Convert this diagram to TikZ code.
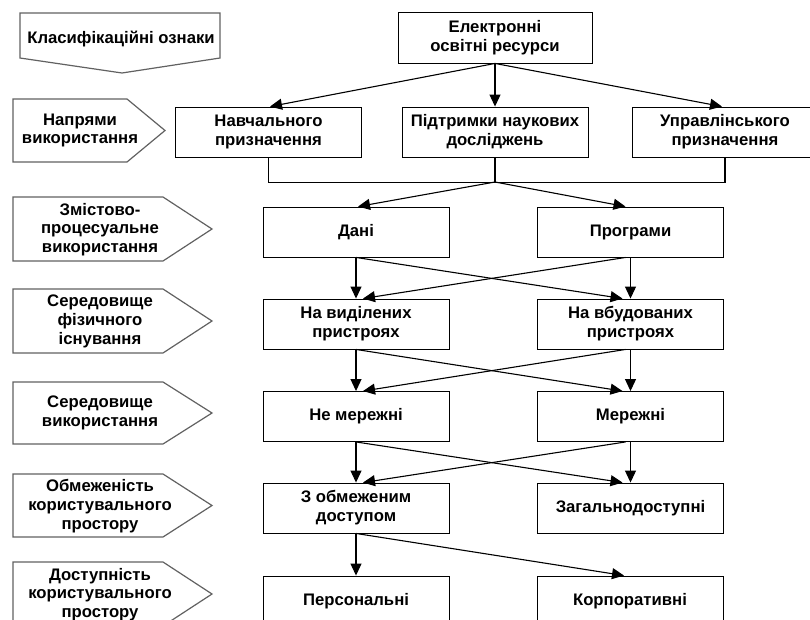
\documentclass[tikz,border=0pt]{standalone}
\usepackage{fontspec}
\setmainfont{Liberation Sans}
\usetikzlibrary{positioning, arrows.meta, calc}

\begin{document}
\begin{tikzpicture}[
    x=1pt, y=-1pt,
    catbox/.style={rectangle, draw=black, line width=0.9pt, minimum width=186pt,
                   minimum height=50pt, align=center, inner sep=0pt,
                   font=\fontsize{16.7}{19}\selectfont\bfseries},
    tag/.style={draw=black!62, line width=1.2pt},
    tagtext/.style={align=center, inner sep=0pt,
                    font=\fontsize{16.7}{18.8}\selectfont\bfseries},
    arrow/.style={-{Triangle[length=12pt, width=11pt]}, line width=1.1pt},
    link/.style={line width=1.1pt}
]
    \useasboundingbox (0,0) rectangle (810,620);
    \clip (0,0) rectangle (810,620);

    % Classification tags (left column)
    \draw[tag] (20,13) -- (220,13) -- (220,58) -- (122,73) -- (20,58) -- cycle;
    \node[tagtext] (classif) at (121,39) {Класифікаційні ознаки};

    \draw[tag] (13,99) -- (127,99) -- (165,130.5) -- (127,162) -- (13,162) -- cycle;
    \node[tagtext] (usage) at (80,130.5) {Напрями\\використання};

    \draw[tag] (13,197) -- (163,197) -- (212,229) -- (163,261) -- (13,261) -- cycle;
    \node[tagtext] (content) at (100,229.5) {Змістово-\\процесуальне\\використання};

    \draw[tag] (13,289) -- (163,289) -- (212,321) -- (163,353) -- (13,353) -- cycle;
    \node[tagtext] (physenv) at (100,321.5) {Середовище\\фізичного\\існування};

    \draw[tag] (13,382) -- (163,382) -- (212,413) -- (163,444) -- (13,444) -- cycle;
    \node[tagtext] (useenv) at (100,413) {Середовище\\використання};

    \draw[tag] (13,474) -- (163,474) -- (212,505.5) -- (163,537) -- (13,537) -- cycle;
    \node[tagtext] (limit) at (100,506) {Обмеженість\\користувального\\простору};

    \draw[tag] (13,562) -- (163,562) -- (212,594) -- (163,626) -- (13,626) -- cycle;
    \node[tagtext] (access) at (100,594.5) {Доступність\\користувального\\простору};

    % Root
    \node[catbox, minimum width=194pt, minimum height=51pt] (root) at (495,37.5) {Електронні\\освітні ресурси};

    % Purpose
    \node[catbox] (edu) at (268.5,132) {Навчального\\призначення};
    \node[catbox] (sci) at (495,132) {Підтримки наукових\\досліджень};
    \node[catbox] (mgmt) at (725,132) {Управлінського\\призначення};

    % Content
    \node[catbox] (data) at (356,232) {Дані};
    \node[catbox] (prog) at (630.5,232) {Програми};

    % Physical environment
    \node[catbox] (dedic) at (356,324) {На виділених\\пристроях};
    \node[catbox] (embed) at (630.5,324) {На вбудованих\\пристроях};

    % Usage environment
    \node[catbox] (local) at (356,416.5) {Не мережні};
    \node[catbox] (net) at (630.5,416.5) {Мережні};

    % User space limits
    \node[catbox] (restr) at (356,508) {З обмеженим\\доступом};
    \node[catbox] (public) at (630.5,508) {Загальнодоступні};

    % Accessibility
    \node[catbox] (pers) at (356,601) {Персональні};
    \node[catbox] (corp) at (630,601) {Корпоративні};

    % Arrows
    \draw[arrow] (root.south) -- ([xshift=1.5pt]edu.north);
    \draw[arrow] (root.south) -- (sci.north);
    \draw[arrow] (root.south) -- ([xshift=-3pt]mgmt.north);

    \coordinate (join) at (495,182);
    \draw[link] (edu.south) -- ++(0,25) -| (mgmt.south);
    \draw[link] (sci.south) -- (join);
    \draw[arrow] (join) -- ([xshift=2pt]data.north);
    \draw[arrow] (join) -- ([xshift=-5pt]prog.north);

    \draw[arrow] (data.south) -- (dedic.north);
    \draw[arrow] (data.south) -- ([xshift=-8pt]embed.north);
    \draw[arrow] (prog.south) -- (embed.north);
    \draw[arrow] ([xshift=-5pt]prog.south) -- ([xshift=7pt]dedic.north);

    \draw[arrow] (dedic.south) -- (local.north);
    \draw[arrow] (dedic.south) -- ([xshift=-8pt]net.north);
    \draw[arrow] (embed.south) -- (net.north);
    \draw[arrow] ([xshift=-5pt]embed.south) -- ([xshift=7pt]local.north);

    \draw[arrow] (local.south) -- (restr.north);
    \draw[arrow] (local.south) -- ([xshift=-8pt]public.north);
    \draw[arrow] (net.south) -- (public.north);
    \draw[arrow] ([xshift=-5pt]net.south) -- ([xshift=7pt]restr.north);

    \draw[arrow] (restr.south) -- (pers.north);
    \draw[arrow] (restr.south) -- ([xshift=-6pt]corp.north);

\end{tikzpicture}
\end{document}
